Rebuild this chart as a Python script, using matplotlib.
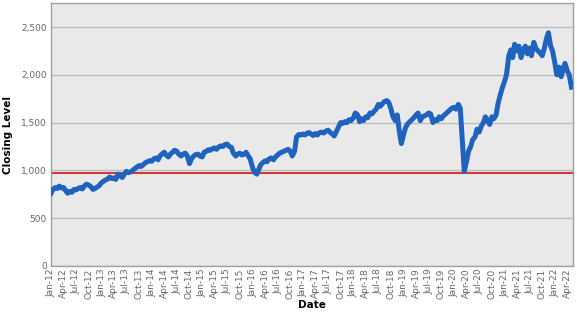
import matplotlib
matplotlib.use("Agg")
import matplotlib.pyplot as plt
import matplotlib.dates as mdates
from matplotlib.ticker import FuncFormatter
import pandas as pd

# semi-monthly closing levels (1st and 15th), Jan-12 .. May-22
y2012 = [760, 800, 820, 810, 835, 815, 820, 790, 760, 780, 770, 800,
         795, 810, 820, 805, 840, 855, 845, 830, 800, 810, 825, 840]
y2013 = [870, 885, 900, 910, 930, 915, 920, 905, 960, 945, 925, 960,
         990, 975, 985, 1000, 1020, 1035, 1050, 1040, 1060, 1080, 1090, 1100]
y2014 = [1095, 1120, 1130, 1110, 1150, 1170, 1190, 1160, 1140, 1170, 1190, 1210,
         1200, 1170, 1150, 1170, 1180, 1150, 1070, 1120, 1150, 1165, 1170, 1150]
y2015 = [1140, 1190, 1200, 1215, 1210, 1225, 1235, 1220, 1245, 1255, 1250, 1270,
         1275, 1250, 1240, 1180, 1150, 1170, 1180, 1160, 1170, 1190, 1150, 1120]
y2016 = [1030, 980, 960, 1010, 1060, 1080, 1100, 1090, 1120, 1130, 1110, 1140,
         1160, 1180, 1190, 1200, 1210, 1220, 1200, 1150, 1200, 1350, 1375, 1370]
y2017 = [1380, 1370, 1390, 1395, 1380, 1365, 1385, 1370, 1395, 1400, 1390, 1410,
         1420, 1400, 1380, 1360, 1410, 1450, 1500, 1490, 1510, 1500, 1530, 1520]
y2018 = [1550, 1600, 1580, 1510, 1540, 1520, 1560, 1550, 1600, 1590, 1620, 1640,
         1690, 1670, 1700, 1720, 1730, 1710, 1640, 1560, 1520, 1580, 1400, 1280]
y2019 = [1380, 1450, 1490, 1510, 1530, 1550, 1580, 1600, 1520, 1560, 1570, 1580,
         1600, 1590, 1500, 1530, 1520, 1560, 1540, 1570, 1590, 1610, 1630, 1650]
y2020 = [1660, 1640, 1690, 1650, 1300, 990, 1100, 1200, 1250, 1320, 1350, 1430,
         1400, 1460, 1500, 1560, 1520, 1480, 1560, 1540, 1580, 1700, 1790, 1860]
y2021 = [1930, 2000, 2200, 2260, 2180, 2320, 2250, 2300, 2180, 2260, 2300, 2220,
         2280, 2200, 2340, 2280, 2250, 2230, 2200, 2270, 2380, 2440, 2300, 2250]
y2022 = [2120, 2000, 2080, 1980, 2050, 2120, 2040, 2000, 1870]

levels = y2012 + y2013 + y2014 + y2015 + y2016 + y2017 + y2018 + y2019 + y2020 + y2021 + y2022
dates = pd.date_range("2012-01-01", periods=len(levels), freq="SMS")
threshold = 975

fig = plt.figure(figsize=(5.77, 3.15), dpi=100)
ax = fig.add_axes([0.0884, 0.156, 0.9046, 0.834])
ax.set_facecolor("#e9e9e9")

ax.plot(dates, levels, color="#1f63bf", lw=3.6, solid_joinstyle="round", zorder=3)
ax.axhline(threshold, color="#d23a3a", lw=1.5, zorder=2)

ax.set_ylim(0, 2750)
ax.set_yticks(range(0, 2501, 500))
ax.yaxis.set_major_formatter(FuncFormatter(lambda v, p: f"{int(v):,}"))
ax.grid(axis="y", color="#bdbdbd", lw=1)
ax.set_axisbelow(True)

ticks = pd.date_range("2012-01-01", "2022-04-01", freq="QS-JAN")
ax.set_xticks(ticks)
ax.xaxis.set_major_formatter(mdates.DateFormatter("%b-%y"))
ax.set_xlim(pd.Timestamp("2012-01-01"), pd.Timestamp("2022-05-12"))

ax.tick_params(axis="x", rotation=90, length=0, labelsize=6.5, colors="#666666", pad=2)
ax.tick_params(axis="y", length=0, labelsize=6.5, colors="#666666", pad=3)

for s in ax.spines.values():
    s.set_color("#a0a0a0")
    s.set_linewidth(1)

ax.set_xlabel("Date", fontsize=7.5, fontweight="bold", labelpad=1)
ax.set_ylabel("Closing Level", fontsize=7.5, fontweight="bold", labelpad=6)

plt.savefig("out.png", dpi=100)
